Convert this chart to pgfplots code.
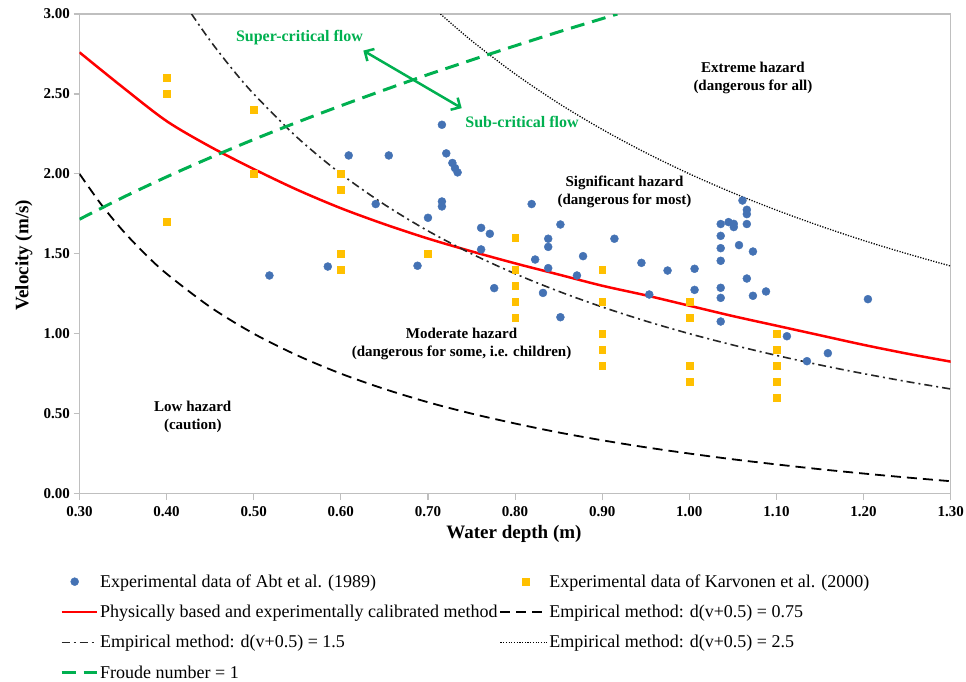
\documentclass[border=0pt]{standalone}
\usepackage{pgfplots}
\pgfplotsset{compat=1.18}
\usepackage{fontspec}
\setmainfont{Liberation Serif}
\usetikzlibrary{arrows.meta}
\definecolor{abtblue}{RGB}{68,114,180}
\definecolor{karvo}{RGB}{255,192,0}
\definecolor{froude}{RGB}{0,176,80}
\definecolor{axgray}{RGB}{191,191,191}
\pgfplotsset{
  legmarkA/.style={legend image code/.code={\path (0pt,0pt) (35pt,0pt); \draw[##1] plot coordinates {(13pt,0pt)};}},
  legmarkB/.style={legend image code/.code={\path (0pt,0pt) (46pt,0pt); \draw[##1] plot coordinates {(25pt,0pt)};}},
  leglineA/.style={legend image code/.code={\draw[##1,sharp plot] (0pt,0pt) -- (35pt,0pt);}},
  leglineB/.style={legend image code/.code={\draw[##1,sharp plot] (0pt,0pt) -- (46pt,0pt);}},
}
\begin{document}
\begin{tikzpicture}
\useasboundingbox (-79.5pt,-187.5pt) rectangle (886.5pt,493.5pt);
\begin{axis}[
  at={(0pt,0pt)}, anchor=south west,
  scale only axis, width=871.2pt, height=479.5pt,
  xmin=0.3, xmax=1.3, ymin=0, ymax=3,
  xtick={0.3,0.4,0.5,0.6,0.7,0.8,0.9,1.0,1.1,1.2,1.3},
  ytick={0,0.5,1,1.5,2,2.5,3},
  xtick pos=bottom, ytick pos=left,
  tick align=outside, major tick length=6pt,
  tick style={axgray, line width=1.2pt},
  axis line style={axgray, line width=1.5pt},
  ticklabel style={font=\bfseries\fontsize{15}{15}\selectfont},
  xticklabel style={yshift=-3pt},
  /pgf/number format/.cd, fixed, fixed zerofill, precision=2, assume math mode=true,
  /pgfplots/.cd,
  xlabel={\bfseries Water depth (m)},
  ylabel={\bfseries Velocity (m/s)},
  label style={font=\fontsize{19}{19}\selectfont},
  xlabel style={at={(axis description cs:0.4987,-0.0845)}, anchor=center},
  ylabel style={at={(axis description cs:-0.064,0.497)}, anchor=center},
  legend columns=2,
  legend cell align=left,
  legend style={draw=none, fill=none, at={(axis description cs:-0.0224,-0.1624)}, anchor=north west,
    font=\fontsize{18}{20}\selectfont, inner sep=0pt, row sep=10.3pt,
    nodes={inner xsep=2pt, inner ysep=3pt}},
  clip=true,
]
% Abt et al. (1989)
\addplot[only marks, mark=*, mark size=4pt, mark options={draw=abtblue, fill=abtblue}, legmarkA]
coordinates {
(0.518,1.364) (0.585,1.420) (0.609,2.115) (0.640,1.811) (0.655,2.115) (0.688,1.425)
(0.700,1.725) (0.716,2.307) (0.716,1.827) (0.716,1.796) (0.721,2.128) (0.728,2.068)
(0.731,2.036) (0.734,2.009) (0.761,1.662) (0.761,1.527) (0.771,1.625) (0.776,1.285)
(0.819,1.811) (0.823,1.464) (0.832,1.255) (0.838,1.594) (0.838,1.543) (0.838,1.410)
(0.852,1.683) (0.852,1.103) (0.871,1.364) (0.878,1.485) (0.914,1.594) (0.945,1.443)
(0.954,1.245) (0.975,1.395) (1.006,1.406) (1.006,1.274) (1.036,1.686) (1.036,1.612)
(1.036,1.535) (1.036,1.456) (1.036,1.287) (1.036,1.224) (1.036,1.076) (1.045,1.698)
(1.051,1.687) (1.051,1.667) (1.057,1.554) (1.061,1.833) (1.066,1.775) (1.066,1.748)
(1.066,1.686) (1.066,1.345) (1.073,1.514) (1.073,1.237) (1.088,1.264) (1.112,0.984)
(1.135,0.828) (1.159,0.878) (1.205,1.216)
};
\addlegendentry{Experimental data of Abt et al. (1989)}
% Karvonen et al. (2000)
\addplot[only marks, mark=square*, mark size=3.4pt, mark options={draw=karvo, fill=karvo}, legmarkB]
coordinates {
(0.4,2.6) (0.4,2.5) (0.4,1.7) (0.5,2.4) (0.5,2.0) (0.6,2.0) (0.6,1.9) (0.6,1.5) (0.6,1.4)
(0.7,1.5) (0.8,1.6) (0.8,1.4) (0.8,1.3) (0.8,1.2) (0.8,1.1) (0.9,1.4) (0.9,1.2) (0.9,1.0)
(0.9,0.9) (0.9,0.8) (1.0,1.2) (1.0,1.1) (1.0,0.8) (1.0,0.7) (1.1,1.0) (1.1,0.9) (1.1,0.8)
(1.1,0.7) (1.1,0.6)
};
\addlegendentry{Experimental data of Karvonen et al. (2000)}
% Physically based method
\addplot[red, line width=2.5pt, smooth, leglineA]
coordinates {
(0.30,2.760) (0.35,2.540) (0.40,2.330) (0.45,2.170) (0.50,2.030) (0.55,1.900) (0.60,1.785)
(0.65,1.685) (0.70,1.595) (0.75,1.515) (0.80,1.440) (0.85,1.370) (0.90,1.300) (0.95,1.240)
(1.00,1.175) (1.05,1.110) (1.10,1.050) (1.15,0.990) (1.20,0.930) (1.25,0.875) (1.30,0.825)
};
\addlegendentry{Physically based and experimentally calibrated method}
% Empirical 0.75
\addplot[black, line width=1.8pt, dash pattern=on 10pt off 6pt, smooth, leglineB]
coordinates {
(0.300,2.000) (0.325,1.808) (0.350,1.643) (0.375,1.500) (0.400,1.375) (0.450,1.167)
(0.500,1.000) (0.550,0.864) (0.600,0.750) (0.650,0.654) (0.700,0.571) (0.750,0.500)
(0.800,0.438) (0.850,0.382) (0.900,0.333) (0.950,0.289) (1.000,0.250) (1.050,0.214)
(1.100,0.182) (1.150,0.152) (1.200,0.125) (1.250,0.100) (1.300,0.077)
};
\addlegendentry{Empirical method: d(v+0.5) = 0.75}
% Empirical 1.5
\addplot[black!85, line width=1.6pt, dash pattern=on 8pt off 4pt on 2pt off 4pt, smooth, leglineA]
coordinates {
(0.4286,3.000) (0.450,2.833) (0.475,2.658) (0.500,2.500) (0.550,2.227) (0.600,2.000)
(0.650,1.808) (0.700,1.643) (0.750,1.500) (0.800,1.375) (0.850,1.265) (0.900,1.167)
(0.950,1.079) (1.000,1.000) (1.050,0.929) (1.100,0.864) (1.150,0.804) (1.200,0.750)
(1.250,0.700) (1.300,0.654)
};
\addlegendentry{Empirical method: d(v+0.5) = 1.5}
% Empirical 2.5
\addplot[black, line width=1.3pt, dash pattern=on 1.2pt off 1.5pt, smooth, leglineB]
coordinates {
(0.7143,3.000) (0.750,2.833) (0.800,2.625) (0.850,2.441) (0.900,2.278) (0.950,2.132)
(1.000,2.000) (1.050,1.881) (1.100,1.773) (1.150,1.674) (1.200,1.583) (1.250,1.500)
(1.300,1.423)
};
\addlegendentry{Empirical method: d(v+0.5) = 2.5}
% Froude = 1
\addplot[froude, line width=3pt, dash pattern=on 14pt off 8pt, smooth, leglineA]
coordinates {
(0.300,1.716) (0.350,1.853) (0.400,1.981) (0.450,2.101) (0.500,2.215) (0.550,2.323)
(0.600,2.426) (0.650,2.525) (0.700,2.621) (0.750,2.712) (0.800,2.801) (0.850,2.888)
(0.900,2.971) (0.9174,3.000)
};
\addlegendentry{Froude number = 1}

% annotations
\node[text=froude, font=\bfseries\fontsize{16}{16}\selectfont] at (axis cs:0.5525,2.855) {Super-critical flow};
\node[text=froude, font=\bfseries\fontsize{16}{16}\selectfont] at (axis cs:0.808,2.323) {Sub-critical flow};
\draw[froude, line width=2.5pt, {Straight Barb[length=7pt,width=14pt]}-{Straight Barb[length=7pt,width=14pt]}]
  (axis cs:0.6258,2.771) -- (axis cs:0.7387,2.411);
\node[align=center, font=\bfseries\fontsize{15}{18}\selectfont] at (axis cs:1.073,2.597) {Extreme hazard\\(dangerous for all)};
\node[align=center, font=\bfseries\fontsize{15}{18}\selectfont] at (axis cs:0.9256,1.885) {Significant hazard\\(dangerous for most)};
\node[align=center, font=\bfseries\fontsize{15}{18}\selectfont] at (axis cs:0.7385,0.9355) {Moderate hazard\\(dangerous for some, i.e. children)};
\node[align=center, font=\bfseries\fontsize{15}{18}\selectfont] at (axis cs:0.430,0.479) {Low hazard\\(caution)};
\end{axis}
\end{tikzpicture}
\end{document}
